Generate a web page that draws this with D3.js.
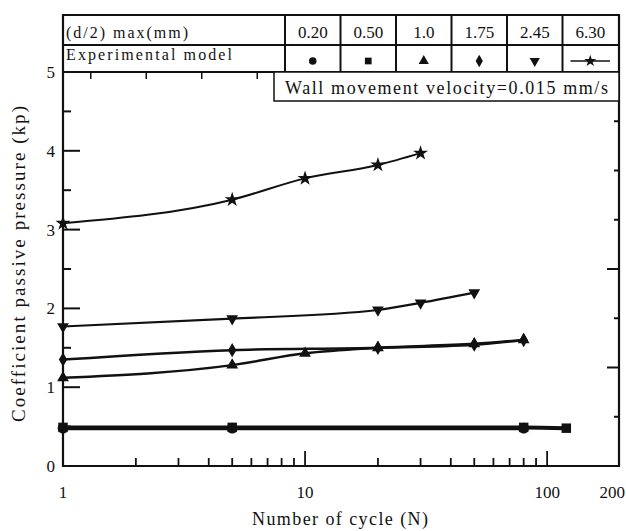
<!DOCTYPE html>
<html lang="en">
<head>
<meta charset="UTF-8"/>
<title>Coefficient passive pressure vs number of cycle</title>
<script src="https://d3js.org/d3.v7.min.js"></script>
</head>
<body style="margin:0">
<div id="chart"></div>
<script>
    // table headings: (d/2)max values and marker shape for each
    var amplitudes = ["0.20", "0.50", "1.0", "1.75", "2.45", "6.30"];
    var shapes = ["circle", "square", "triangle", "diamond", "down", "star"];

    // cycles and kp per series
    var cyc020 = [1, 5, 80];
    var kp020 = [0.48, 0.48, 0.48];
    var cyc050 = [1, 5, 80, 120];
    var kp050 = [0.49, 0.49, 0.49, 0.48];
    var cyc100 = [1, 5, 10, 20, 50, 80];
    var kp100 = [1.12, 1.28, 1.43, 1.5, 1.55, 1.6];
    var cyc175 = [1, 5, 20, 50, 80];
    var kp175 = [1.35, 1.47, 1.5, 1.54, 1.6];
    var cyc245 = [1, 5, 20, 30, 50];
    var kp245 = [1.77, 1.87, 1.98, 2.07, 2.2];
    var cyc630 = [1, 5, 10, 20, 30];
    var kp630 = [3.08, 3.38, 3.65, 3.82, 3.97];

    var xTickLabels = [1, 10, 100, 200];
    var yTickLabels = [0, 1, 2, 3, 4, 5];

    var W = 626, H = 531;
    var pL = 63, pR = 619, pT = 15, pB = 466, tableB = 72;
    var serif = "Liberation Serif, DejaVu Serif, serif";

    var svg = d3.select("#chart").append("svg").attr("width", W).attr("height", H);

    var xs = d3.scaleLog().domain([1, 200]).range([pL, 620]);
    var ys = d3.scaleLinear().domain([0, 5]).range([pB, tableB]);

    function label(x, y, s, size, anchor) {
        return svg.append("text").attr("x", x).attr("y", y)
            .attr("font-family", serif).attr("font-size", size)
            .attr("text-anchor", anchor || "start").attr("fill", "#111").text(s);
    }

    // frame drawn as a single path first, ticks and data on top
    svg.append("path")
        .attr("d", "M" + pL + "," + pT + "H" + pR + "V" + pB + "H" + pL + "Z")
        .attr("fill", "none").attr("stroke", "#111").attr("stroke-width", 2.2);

    // y tick labels
    yTickLabels.forEach(function (d) { label(55, ys(d) + 6, d, 17, "end"); });
    // x tick labels (200 kept inside the window)
    xTickLabels.forEach(function (d) {
        if (d === 200) label(625, 498, d, 17, "end");
        else label(xs(d), 498, d, 17, "middle");
    });

    // axis titles
    label(340, 525, "Number of cycle (N)", 18, "middle").attr("textLength", 176);
    svg.append("text").attr("transform", "translate(25,264) rotate(-90)")
        .attr("font-family", serif).attr("font-size", 19).attr("fill", "#111")
        .attr("text-anchor", "middle").attr("textLength", 316)
        .text("Coefficient passive pressure (kp)");

    function seg(x1, y1, x2, y2, w) {
        svg.append("line").attr("x1", x1).attr("y1", y1).attr("x2", x2).attr("y2", y2)
            .attr("stroke", "#111").attr("stroke-width", w || 2);
    }

    // left axis ticks, inward: majors at integers
    d3.range(0, 5.01, 0.5).forEach(function (d) {
        seg(pL, ys(d), pL + (d % 1 === 0 ? 17 : 8), ys(d));
    });
    // right axis ticks
    d3.range(0.625, 4.5, 0.625).forEach(function (d, i) {
        seg(pR, ys(d), pR - ((i === 1 || i === 3) ? 12 : 5), ys(d));
    });
    // bottom axis ticks (log), pointing up
    [1, 10, 100].forEach(function (p) {
        d3.range(1, 10).forEach(function (m) {
            var v = p * m;
            if (v > 1 && v < 200) seg(xs(v), pB, xs(v), pB - ((v === 10 || v === 100) ? 15 : 8), 1.8);
        });
    });

    // markers
    var symType = {
        circle: d3.symbolCircle, square: d3.symbolSquare, triangle: d3.symbolTriangle,
        diamond: d3.symbolDiamond, down: d3.symbolTriangle, star: d3.symbolStar
    };
    function marker(shape, size, cx, cy) {
        svg.append("path").attr("d", d3.symbol().type(symType[shape]).size(size)())
            .attr("transform", "translate(" + cx + "," + cy + ")" + (shape === "down" ? " rotate(180)" : ""))
            .attr("fill", "#111");
    }

    var series = [
        { cyc: cyc020, kp: kp020, shape: "circle", w: 4, size: 90 },
        { cyc: cyc050, kp: kp050, shape: "square", w: 4, size: 90 },
        { cyc: cyc100, kp: kp100, shape: "triangle", w: 2.5, size: 60 },
        { cyc: cyc175, kp: kp175, shape: "diamond", w: 2.5, size: 60 },
        { cyc: cyc245, kp: kp245, shape: "down", w: 2.2, size: 60 },
        { cyc: cyc630, kp: kp630, shape: "star", w: 2, size: 70 }
    ];

    var lineGen = d3.line().curve(d3.curveMonotoneX)
        .x(function (d) { return xs(d[0]); }).y(function (d) { return ys(d[1]); });

    series.forEach(function (s) {
        var pts = s.cyc.map(function (c, i) { return [c, s.kp[i]]; });
        svg.append("path").attr("d", lineGen(pts))
            .attr("fill", "none").attr("stroke", "#111").attr("stroke-width", s.w);
        pts.forEach(function (p) { marker(s.shape, s.size, xs(p[0]), ys(p[1])); });
    });

    // table above the plot
    var col = d3.scaleBand().domain(amplitudes).range([285, 618]);
    seg(pL, 45, pR, 45);
    seg(pL, tableB, pR, tableB);
    amplitudes.forEach(function (d, i) {
        var cx = col(d) + col.bandwidth() / 2;
        seg(col(d), pT, col(d), tableB);
        label(cx, 38, d, 17, "middle");
        marker(shapes[i], 45, cx, 61);
    });
    var last = amplitudes[amplitudes.length - 1];
    seg(col(last) + 8, 61, col(last) + col.bandwidth() - 8, 61, 1.5);
    label(66, 38, "(d/2) max(mm)", 16).attr("textLength", 122);
    label(66, 60, "Experimental model", 16).attr("textLength", 166);

    // small ticks hanging below the table, one column step apart
    d3.range(-4, 6).forEach(function (k) {
        var tx = col(amplitudes[0]) + col.bandwidth() / 2 + k * col.step();
        seg(tx, tableB, tx, tableB + 7, 1.5);
    });

    // wall velocity note
    svg.append("rect").attr("x", 274).attr("y", tableB).attr("width", pR - 274).attr("height", 29)
        .attr("fill", "#fff").attr("stroke", "#111").attr("stroke-width", 1.5);
    label(285, 94, "Wall movement velocity=0.015 mm/s", 18).attr("textLength", 323);
</script>
</body>
</html>
